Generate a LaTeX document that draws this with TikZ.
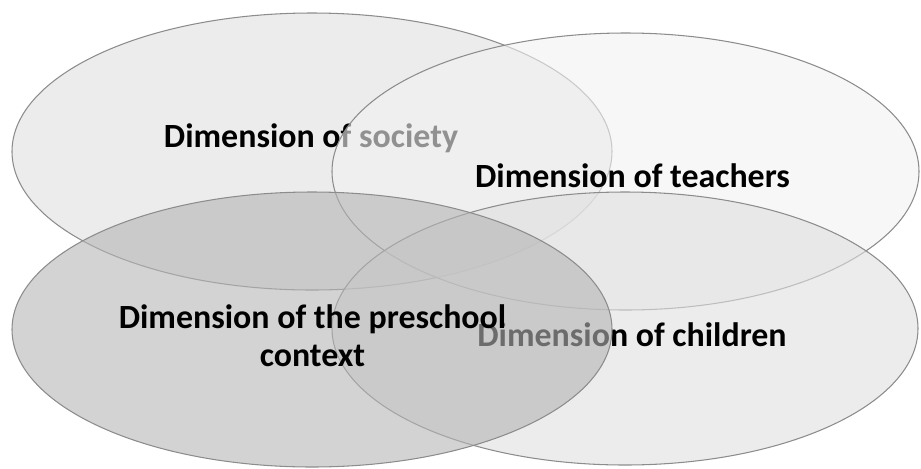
\documentclass[tikz,border=0pt]{standalone}
\usepackage{fontspec}
\setmainfont{Carlito}
\usepackage{tikz}
\usetikzlibrary{positioning}

\begin{document}
\begin{tikzpicture}[
        x=0.02cm, y=-0.02cm,
        layer/.style={draw=black!45, line width=0.6pt, fill opacity=0.6},
        label/.style={font=\bfseries\fontsize{19.3}{21.6}\selectfont, text=black, align=center, inner sep=0pt}
    ]
        \useasboundingbox (0,0) rectangle (921,468);

        % Society
        \draw[layer, fill=black!12.5] (312,151.5) ellipse [x radius=300, y radius=138.5];
        \node[label] (society) at (311,138) {Dimension of society};

        % Teachers
        \draw[layer, fill=black!5.2] (625.5,171.5) ellipse [x radius=293.5, y radius=138.5];
        \node[label] (teachers) at (632.5,176) {Dimension of teachers};

        % Children
        \draw[layer, fill=black!12.5] (625,328.5) ellipse [x radius=293, y radius=136.5];
        \node[label] (children) at (632,335) {Dimension of children};

        % Preschool context
        \draw[layer, fill=black!29] (312,329.5) ellipse [x radius=300, y radius=137.5];
        \node[label] (preschool) at (312.5,336) {Dimension of the preschool\\context};
    \end{tikzpicture}
\end{document}
